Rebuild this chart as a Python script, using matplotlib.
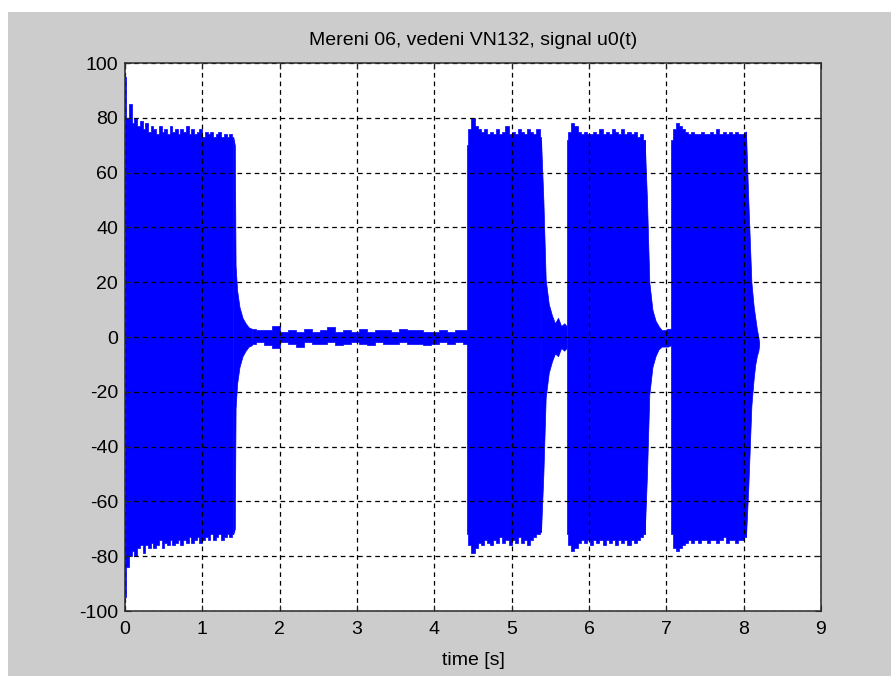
import numpy as np
import matplotlib
matplotlib.use("Agg")
import matplotlib.pyplot as plt
from matplotlib.patches import Rectangle

plt.rcParams['font.family'] = ['Liberation Sans Narrow', 'Liberation Sans', 'DejaVu Sans']
plt.rcParams['lines.scale_dashes'] = False
plt.rcParams['axes.unicode_minus'] = False

# ---- data: signal envelope (upper / lower) ----
# burst 1
b1_t = np.linspace(0.0, 1.40, 41)
b1_up = [95, 80, 85, 78, 80, 77, 79, 76, 78, 75, 77, 76, 74, 77, 75, 76, 74, 77, 75, 76,
         74, 76, 75, 77, 74, 76, 74, 75, 76, 73, 75, 74, 75, 73, 74, 75, 73, 74, 73, 74, 73]
b1_lo = [-95, -84, -80, -78, -80, -77, -76, -79, -76, -77, -75, -77, -76, -74, -77, -75, -76,
         -74, -76, -75, -74, -76, -74, -75, -73, -75, -74, -73, -75, -74, -73, -74, -72, -74,
         -73, -72, -74, -73, -72, -73, -72]
# decay after burst 1
d1_t = [1.40, 1.42, 1.43, 1.45, 1.48, 1.52, 1.56, 1.60, 1.64]
d1_up = [73, 70, 26, 17, 11, 7, 5, 3.5, 3]
d1_lo = [-72, -70, -26, -17, -11, -7, -5, -3.5, -3]
# quiet part
q_t = np.linspace(1.64, 4.42, 28)
q_up = [3, 2.5, 2.5, 4, 2, 2.5, 2, 3, 2, 2.5, 3.5, 2, 2.5, 2, 3, 2, 2.5, 2.5, 2, 3,
        2.5, 2.5, 2, 2, 2.5, 2, 2.5, 2.5]
q_lo = [-2.5, -2, -3, -4, -2, -2.5, -3.5, -2, -2.5, -2.5, -2, -3, -2.5, -2, -2.5, -3,
        -2, -2.5, -2.5, -2, -2.5, -2.5, -3, -2.5, -2, -2.5, -2, -2.5]
# burst 2
b2_t = np.linspace(4.42, 5.38, 25)
b2_up = [70, 76, 80, 77, 76, 75, 76, 74, 75, 74, 76, 74, 75, 77, 74, 75, 74, 76, 75, 74,
         76, 75, 74, 76, 73]
b2_lo = [-72, -76, -79, -77, -75, -76, -74, -75, -76, -74, -75, -73, -75, -74, -76, -74,
         -75, -73, -75, -74, -76, -74, -73, -72, -71]
d2_t = [5.38, 5.41, 5.44, 5.48, 5.52, 5.56, 5.60, 5.64, 5.68, 5.71]
d2_up = [72, 50, 21, 12, 8, 5, 7, 4, 5, 4]
d2_lo = [-71, -50, -22, -13, -9, -6, -7, -4, -5, -4]
# burst 3
b3_t = np.linspace(5.71, 6.72, 26)
b3_up = [72, 75, 78, 77, 75, 74, 75, 74, 74, 75, 74, 76, 74, 75, 74, 76, 75, 74, 76, 74,
         75, 74, 75, 73, 74, 72]
b3_lo = [-72, -76, -78, -77, -75, -74, -75, -74, -76, -74, -75, -74, -76, -74, -75, -74,
         -76, -74, -75, -74, -76, -74, -75, -74, -73, -72]
d3_t = [6.72, 6.75, 6.78, 6.82, 6.86, 6.90, 6.94, 6.98, 7.02, 7.06]
d3_up = [72, 50, 20, 10, 6, 4, 2.5, 2.5, 3, 3]
d3_lo = [-72, -50, -21, -11, -7, -4.5, -3.5, -3.5, -3.5, -3]
# burst 4
b4_t = np.linspace(7.06, 8.03, 25)
b4_up = [72, 76, 78, 77, 76, 75, 74, 75, 74, 74, 75, 74, 74, 75, 74, 76, 74, 75, 74, 75,
         74, 75, 74, 74, 75]
b4_lo = [-72, -77, -78, -77, -76, -75, -74, -75, -74, -75, -74, -74, -75, -74, -74, -75,
         -74, -73, -75, -74, -74, -75, -74, -74, -73]
d4_t = [8.03, 8.06, 8.10, 8.13, 8.15, 8.17, 8.19, 8.20]
d4_up = [75, 50, 20, 11, 7, 3, 0, -2]
d4_lo = [-73, -55, -25, -15, -10, -7, -5, -3]

x_ticks = list(range(0, 10))
y_ticks = list(range(-100, 101, 20))
title = "Mereni 06, vedeni VN132, signal u0(t)"
xlabel = "time [s]"

# ---- figure ----
W, H = 891, 676
fig = plt.figure(figsize=(W / 100, H / 100), dpi=100, facecolor='white')
fig.add_artist(Rectangle((8 / W, 0), 1, 1 - 12 / H, transform=fig.transFigure,
                         facecolor='#cccccc', edgecolor='none', zorder=-10))
ax = fig.add_axes([125 / W, 1 - 611 / H, (821 - 125) / W, (611 - 63) / H])
ax.set_facecolor('white')

blue = '#0000ff'
segs = [(b1_t, b1_up, b1_lo, 'mid'), (d1_t, d1_up, d1_lo, None),
        (q_t, q_up, q_lo, 'mid'), (b2_t, b2_up, b2_lo, 'mid'),
        (d2_t, d2_up, d2_lo, None), (b3_t, b3_up, b3_lo, 'mid'),
        (d3_t, d3_up, d3_lo, None), (b4_t, b4_up, b4_lo, 'mid'),
        (d4_t, d4_up, d4_lo, None)]
for t, up, lo, st in segs:
    ax.fill_between(t, lo, up, step=st, facecolor=blue, edgecolor=blue,
                    linewidth=0.5, zorder=2)

ax.set_xlim(0, 9)
ax.set_ylim(-100, 100)
ax.set_xticks(x_ticks)
ax.set_yticks(y_ticks)
ax.grid(True, color='black', linestyle=(0, (3.4, 2.8)), linewidth=0.9, zorder=3)
ax.set_axisbelow(False)
ax.tick_params(direction='in', length=4, width=0.8, top=True, right=True,
               labelsize=14, colors='#222222', labelcolor='black')
ax.tick_params(axis='x', pad=7)
ax.tick_params(axis='y', pad=5)
for s in ax.spines.values():
    s.set_linewidth(1.1)
    s.set_color('#2a2a2a')
    s.set_zorder(4)
ax.set_title(title, fontsize=14, pad=13)
ax.set_xlabel(xlabel, fontsize=14, labelpad=10)

fig.savefig('out.png', dpi=100, facecolor=fig.get_facecolor())
